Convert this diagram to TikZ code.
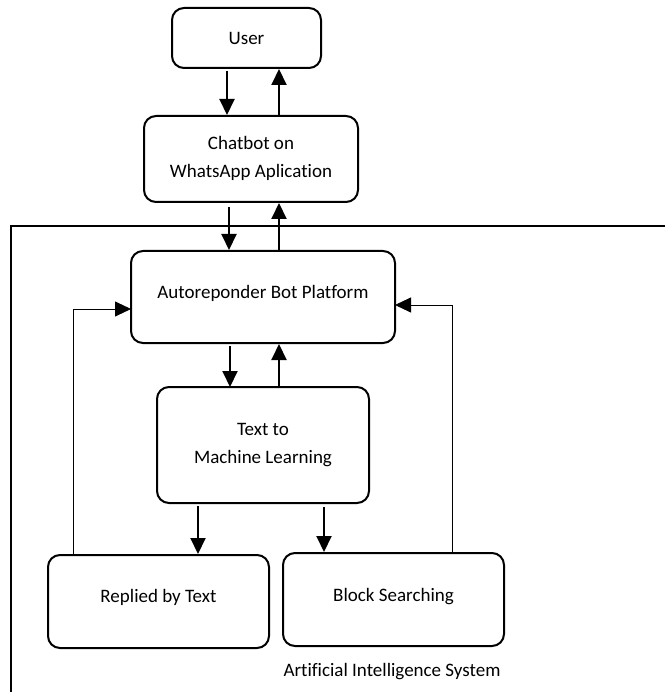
\documentclass[tikz,border=0pt]{standalone}
\usepackage{fontspec}
\setmainfont{Carlito}[Ligatures=CommonOff]
\usetikzlibrary{arrows.meta}
\begin{document}
\begin{tikzpicture}[x=1pt,y=-1pt,
  box/.style={draw,line width=2pt,rounded corners=12pt,inner sep=0pt},
  arr/.style={line width=2pt,-{Triangle[length=16pt,width=15pt]}},
  thinarr/.style={line width=0.9pt,-{Triangle[length=16pt,width=15pt]}},
  lbl/.style={font=\fontsize{19}{28}\selectfont,align=center}]
\useasboundingbox (0,0) rectangle (665,692);
% outer frame
\draw[line width=1.4pt] (665,226) -- (11,226) -- (11,692);
% boxes
\draw[box] (172,8) rectangle (321,68);
\node[lbl] (user) at (246.5,38) {User};
\draw[box] (144,116) rectangle (358,202);
\node[lbl] (chat) at (251,158) {Chatbot on\\WhatsApp Aplication};
\draw[box] (131,251) rectangle (395,343);
\node[lbl] (auto) at (263,293) {Autoreponder Bot Platform};
\draw[box] (157,387) rectangle (369,503);
\node[lbl] (ml) at (263,445) {Text to\\Machine Learning};
\draw[box] (48,555) rectangle (269,648);
\node[lbl] (rep) at (158.5,597) {Replied by Text};
\draw[box] (283,553) rectangle (504,646);
\node[lbl] (blk) at (393.5,597) {Block Searching};
\node[font=\fontsize{19}{22}\selectfont] (ais) at (392,672) {Artificial Intelligence System};
% coordinates for connectors
\coordinate (u1) at (227,71); \coordinate (c1) at (227,115);
\coordinate (c2) at (279,116); \coordinate (u2) at (279,69);
\coordinate (c3) at (229,207); \coordinate (a3) at (229,250);
\coordinate (a4) at (279,250); \coordinate (c4) at (279,203);
\coordinate (a5) at (230,346); \coordinate (m5) at (230,387);
\coordinate (m6) at (279,387); \coordinate (a6) at (279,344);
\coordinate (m7) at (198,506); \coordinate (r7) at (198,554);
\coordinate (m8) at (324,507); \coordinate (b8) at (324,552);
\coordinate (r9) at (73,555); \coordinate (l9) at (73,309); \coordinate (a9) at (131,309);
\coordinate (b10) at (452,553); \coordinate (l10) at (452,305); \coordinate (a10) at (395,305);
\draw[arr] (u1) -- (c1);
\draw[arr] (c2) -- (u2);
\draw[arr] (c3) -- (a3);
\draw[arr] (a4) -- (c4);
\draw[arr] (a5) -- (m5);
\draw[arr] (m6) -- (a6);
\draw[arr] (m7) -- (r7);
\draw[arr] (m8) -- (b8);
\draw[thinarr] (r9) -- (l9) -- (a9);
\draw[thinarr] (b10) -- (l10) -- (a10);
\end{tikzpicture}
\end{document}
